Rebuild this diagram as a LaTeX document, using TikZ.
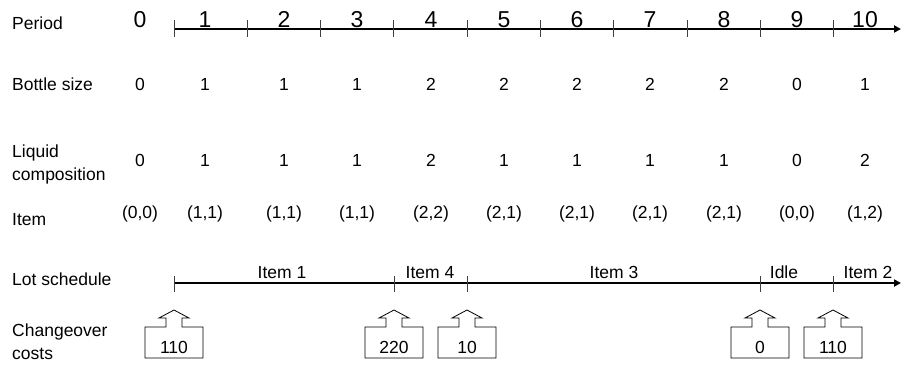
\documentclass[tikz,border=0pt]{standalone}
\usepackage{fontspec}
\setmainfont{Liberation Sans}
\usetikzlibrary{arrows.meta}

\begin{document}
\begin{tikzpicture}[x=1pt,y=-1pt,
  rowlabel/.style={anchor=base west, font=\fontsize{17.5}{23}\selectfont, inner sep=0pt, align=left},
  val/.style={anchor=base, font=\fontsize{17.5}{20}\selectfont, inner sep=0pt},
  pval/.style={anchor=base, font=\fontsize{23}{26}\selectfont, inner sep=0pt},
  axis/.style={line width=1.8pt, -{Triangle[length=7pt,width=7pt]}},
  tickmark/.style={line width=0.9pt, black!75},
  cost/.style={draw, line width=0.8pt, line join=miter},
  costbox/.pic={
    \draw[cost] (-29,358) -- (-29,327) -- (-8,327) -- (-8,318) -- (-15,318)
      -- (0,310) -- (15,318) -- (8,318) -- (8,327) -- (29,327) -- (29,358) -- cycle;
  },
]
\useasboundingbox (0,0) rectangle (902,365);

% row labels (a two-line label is placed by its last baseline)
\node[rowlabel] (lperiod) at (12,29) {Period};
\node[rowlabel] (lbottle) at (12,90) {Bottle size};
\node[rowlabel] (lliquid) at (12,180) {Liquid\\composition};
\node[rowlabel] (litem)   at (12,225) {Item};
\node[rowlabel] (llot)    at (12,285) {Lot schedule};
\node[rowlabel] (lcost)   at (12,359) {Changeover\\costs};

% period axis
\coordinate (pa) at (174,29);
\coordinate (pb) at (901,29);
\draw[axis] (pa) -- (pb);
\foreach \k in {0,...,9}
  \draw[tickmark] ({174+73.3*\k},20) -- ({174+73.3*\k},37);

% columns: x / bottle size / liquid / item pair
\foreach \x/\b/\l/\pa/\pb [count=\i from 0] in
  {140/0/0/0/0, 205/1/1/1/1, 284/1/1/1/1, 357/1/1/1/1, 431/2/2/2/2,
   504/2/1/2/1, 577/2/1/2/1, 650/2/1/2/1, 724/2/1/2/1, 797/0/0/0/0, 865/1/2/1/2}
{
  \node[pval] (p\i) at (\x,27) {\i};
  \node[val] (b\i) at (\x,90) {\b};
  \node[val] (l\i) at (\x,166) {\l};
  \node[val] (it\i) at (\x,218) {(\pa,\pb)};
}

% lot schedule axis
\coordinate (la) at (174,283);
\coordinate (lb) at (901,283);
\draw[axis] (la) -- (lb);
\foreach \t in {174,394,467,760,833}
  \draw[tickmark] (\t,276) -- (\t,292);
\node[val] (s1) at (282,278) {Item 1};
\node[val] (s4) at (430,278) {Item 4};
\node[val] (s3) at (614,278) {Item 3};
\node[val] (s0) at (784,278) {Idle};
\node[val] (s2) at (868,278) {Item 2};

% changeover costs
\foreach \t/\c [count=\j] in {174/110, 394/220, 467/10, 760/0, 833/110} {
  \pic at (\t,0) {costbox};
  \node[val] (c\j) at (\t,353) {\c};
}
\end{tikzpicture}
\end{document}
